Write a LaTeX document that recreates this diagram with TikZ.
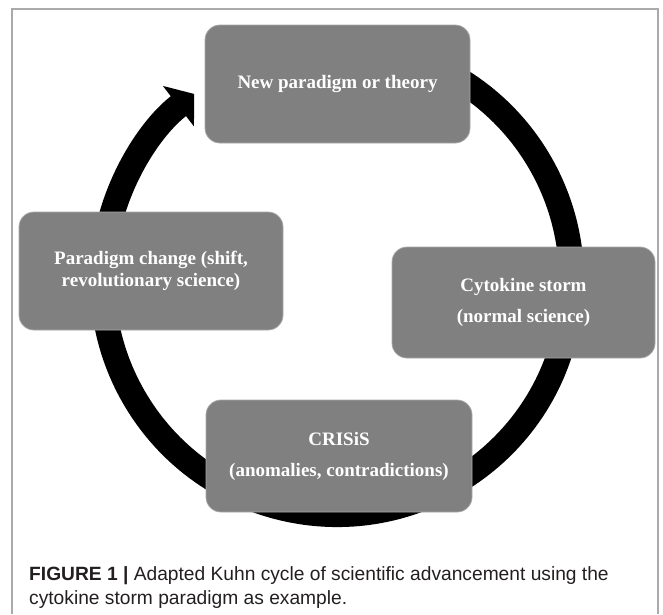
\documentclass[tikz,border=0pt]{standalone}
\usepackage{fontspec}
\setmainfont{Liberation Serif}
\newfontfamily\capfont{Liberation Sans}
\usetikzlibrary{arrows.meta}
\definecolor{boxgray}{RGB}{128,128,128}
\definecolor{boxedge}{RGB}{168,168,168}
\definecolor{framegray}{RGB}{170,170,170}
\definecolor{captext}{RGB}{35,31,32}
\begin{document}
\begin{tikzpicture}[x=1pt,y=-1pt,
  stage/.style={rounded corners=15pt, fill=boxgray, draw=boxedge, line width=0.8pt,
    text=white, align=center, inner sep=0pt, font=\fontsize{19}{31}\selectfont\bfseries},
  ring/.style={line width=25pt, -{Triangle[length=20pt,width=50pt]}},
  captxt/.style={anchor=base west, inner sep=0pt, text=captext, font=\capfont\fontsize{19.2}{24}\selectfont}
]
\useasboundingbox (0,0) rectangle (663,614);
\draw[framegray, line width=1.3pt] (12,614) -- (12,9) -- (658,9) -- (658,614);
\coordinate (c) at (337,280);
\draw[ring] ([shift={(-75:234.5)}]c) arc[start angle=-75, end angle=232.5, radius=234.5];
\node[stage, minimum width=265pt, minimum height=118pt] (new) at (337.5,84) {New paradigm or theory};
\node[stage, minimum width=263pt, minimum height=111pt] (storm) at (523.5,302.5) {Cytokine storm\\(normal science)};
\node[stage, minimum width=266pt, minimum height=112pt] (crisis) at (339,456) {CRISiS\\(anomalies, contradictions)};
\node[stage, minimum width=264pt, minimum height=118pt, font=\fontsize{19}{22}\selectfont\bfseries] (shift) at (151,271) {Paradigm change (shift,\\revolutionary science)};
\node[captxt] (cap1) at (29,580) {\textbf{FIGURE 1 |} Adapted Kuhn cycle of scientific advancement using the};
\node[captxt] (cap2) at (29,604) {cytokine storm paradigm as example.};
\end{tikzpicture}
\end{document}
